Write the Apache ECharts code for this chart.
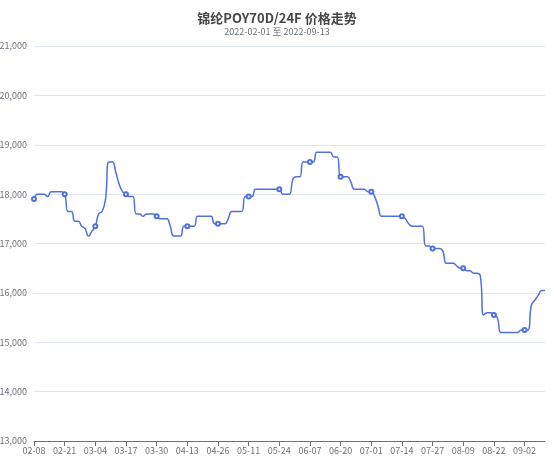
<!DOCTYPE html>
<html>
<head>
<meta charset="utf-8">
<style>
  html, body { margin: 0; padding: 0; background: #fff; }
  #chart1 { width: 554px; height: 457px; }
</style>
<script src="https://cdn.jsdelivr.net/npm/echarts@6/dist/echarts.min.js"></script>
</head>
<body>
<div id="chart1"></div>
<script>
// trading days, 2022
var dates = [
  '02-08', '02-09', '02-10', '02-11', '02-14', '02-15', '02-16', '02-17', '02-18',
  '02-21', '02-22', '02-23', '02-24', '02-25', '02-28', '03-01', '03-02', '03-03',
  '03-04', '03-07', '03-08', '03-09', '03-10', '03-11', '03-14', '03-15', '03-16',
  '03-17', '03-18', '03-21', '03-22', '03-23', '03-24', '03-25', '03-28', '03-29',
  '03-30', '03-31', '04-01', '04-02', '04-06', '04-07', '04-08', '04-11', '04-12',
  '04-13', '04-14', '04-15', '04-18', '04-19', '04-20', '04-21', '04-22', '04-25',
  '04-26', '04-27', '04-28', '04-29', '05-05', '05-06', '05-07', '05-09', '05-10',
  '05-11', '05-12', '05-13', '05-16', '05-17', '05-18', '05-19', '05-20', '05-23',
  '05-24', '05-25', '05-26', '05-27', '05-30', '05-31', '06-01', '06-02', '06-06',
  '06-07', '06-08', '06-09', '06-10', '06-13', '06-14', '06-15', '06-16', '06-17',
  '06-20', '06-21', '06-22', '06-23', '06-24', '06-27', '06-28', '06-29', '06-30',
  '07-01', '07-04', '07-05', '07-06', '07-07', '07-08', '07-11', '07-12', '07-13',
  '07-14', '07-15', '07-18', '07-19', '07-20', '07-21', '07-22', '07-25', '07-26',
  '07-27', '07-28', '07-29', '08-01', '08-02', '08-03', '08-04', '08-05', '08-08',
  '08-09', '08-10', '08-11', '08-12', '08-15', '08-16', '08-17', '08-18', '08-19',
  '08-22', '08-23', '08-24', '08-25', '08-26', '08-29', '08-30', '08-31', '09-01',
  '09-02', '09-05', '09-06', '09-07', '09-08', '09-09', '09-13'
];

// 锦纶POY70D/24F price, yuan/ton
var prices = [
  17900, 18000, 18000, 18000, 17950, 18050, 18050, 18050, 18050,
  18000, 17650, 17650, 17450, 17450, 17350, 17300, 17150, 17250,
  17350, 17600, 17650, 17900, 18650, 18650, 18450, 18200, 18050,
  18000, 17950, 17950, 17600, 17600, 17550, 17600, 17600, 17600,
  17550, 17500, 17500, 17500, 17350, 17150, 17150, 17150, 17350,
  17350, 17350, 17350, 17550, 17550, 17550, 17550, 17550, 17400,
  17400, 17400, 17400, 17500, 17650, 17650, 17650, 17650, 17950,
  17950, 17950, 18100, 18100, 18100, 18100, 18100, 18100, 18100,
  18100, 18000, 18000, 18000, 18300, 18350, 18350, 18650, 18650,
  18650, 18650, 18850, 18850, 18850, 18850, 18850, 18750, 18750,
  18350, 18350, 18350, 18250, 18100, 18100, 18100, 18100, 18050,
  18050, 17950, 17750, 17550, 17550, 17550, 17550, 17550, 17550,
  17550, 17500, 17400, 17350, 17350, 17350, 17350, 16950, 16950,
  16900, 16900, 16900, 16850, 16600, 16600, 16600, 16550, 16500,
  16500, 16450, 16450, 16400, 16400, 16350, 15550, 15600, 15600,
  15550, 15500, 15200, 15200, 15200, 15200, 15200, 15200, 15250,
  15250, 15250, 15750, 15850, 15950, 16050, 16050
];

var yMin = 13000;
var yMax = 21000;
var yStep = 1000;

var chartDom = document.getElementById('chart1');
var myChart = echarts.init(chartDom);
var option;

var font = '"Noto Sans CJK SC", "Noto Sans", sans-serif';

option = {
  animation: false,
  textStyle: { fontFamily: font },
  title: {
    left: 'center',
    top: 7,
    text: '锦纶POY70D/24F 价格走势',
    subtext: '2022-02-01 至 2022-09-13',
    itemGap: 2,
    textStyle: {
      fontSize: 13,
      fontWeight: 'bold',
      color: '#464646',
      fontFamily: font
    },
    subtextStyle: {
      fontSize: 9,
      color: '#6E7079',
      fontFamily: font
    }
  },
  grid: {
    left: 34,
    right: 9,
    top: 46,
    bottom: 16,
    outerBoundsMode: 'none'
  },
  xAxis: {
    type: 'category',
    boundaryGap: false,
    data: dates,
    axisLine: { lineStyle: { color: '#6E7079' } },
    axisLabel: {
      interval: 8,
      fontSize: 9,
      margin: 5,
      color: '#6E7079'
    }
  },
  yAxis: {
    type: 'value',
    min: yMin,
    max: yMax,
    interval: yStep,
    axisLabel: {
      fontSize: 9,
      margin: 7,
      color: '#6E7079',
      formatter: function (v) {
        return v.toLocaleString('en-US');
      }
    },
    splitLine: { lineStyle: { color: '#E0E6F1' } }
  },
  series: [
    {
      type: 'line',
      smooth: true,
      data: prices,
      symbolSize: 4,
      itemStyle: { borderWidth: 1 },
      lineStyle: { width: 1.5 }
    }
  ]
};

option && myChart.setOption(option);
window.onresize = function() {
  myChart.resize();
};
</script>
</body>
</html>
